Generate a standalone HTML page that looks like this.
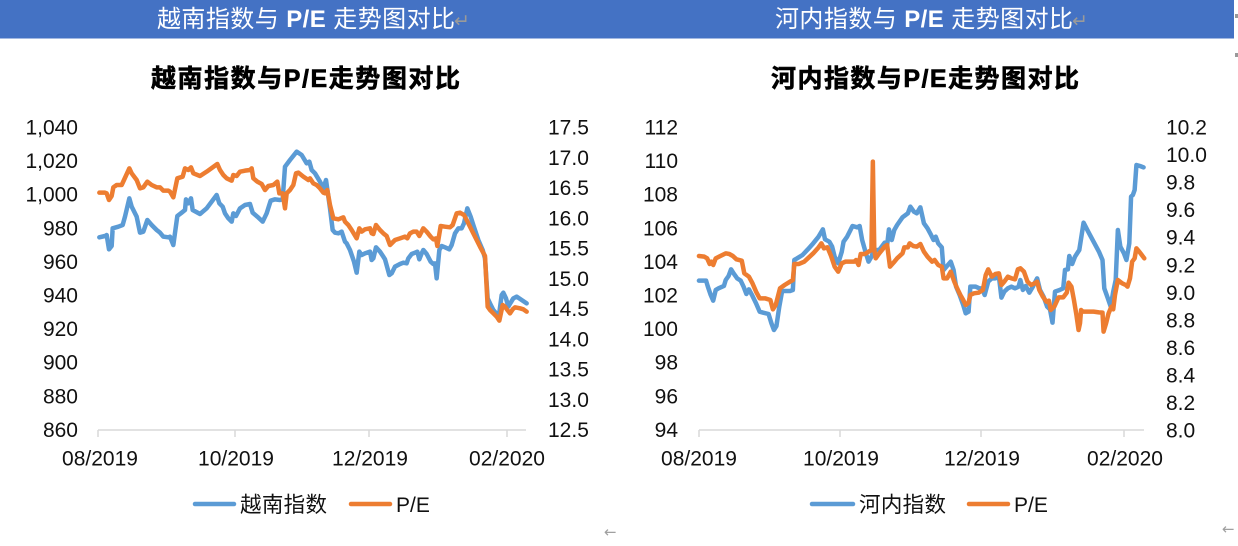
<!DOCTYPE html>
<html>
<head>
<meta charset="utf-8">
<style>
  html, body { margin:0; padding:0; background:#ffffff; }
  body { width:1238px; height:546px; overflow:hidden; }
  svg { display:block; }
  .ax { font-family:"Liberation Sans","Noto Sans CJK SC",sans-serif; font-size:21px; fill:#111; }
  .cjk { font-family:"Liberation Sans","Noto Sans CJK SC",sans-serif; }
  .ln { fill:none; stroke-width:4.5; stroke-linejoin:round; stroke-linecap:round; }
</style>
</head>
<body>
<svg width="1238" height="546" viewBox="0 0 1238 546" xmlns="http://www.w3.org/2000/svg">
  <rect x="0" y="0" width="1238" height="546" fill="#ffffff"/>
  <!-- header band -->
  <rect x="0" y="0" width="1234" height="38.5" fill="#4472C4"/>
  <text class="cjk" x="157" y="27" font-size="24" fill="#ffffff" textLength="298" lengthAdjust="spacing">越南指数与<tspan font-weight="bold" font-family="Liberation Sans, sans-serif"> P/E </tspan>走势图对比</text>
  <text x="454" y="27" font-family="DejaVu Sans, sans-serif" font-size="19" fill="#9a9a9a">↵</text>
  <text class="cjk" x="775" y="27" font-size="24" fill="#ffffff" textLength="298" lengthAdjust="spacing">河内指数与<tspan font-weight="bold" font-family="Liberation Sans, sans-serif"> P/E </tspan>走势图对比</text>
  <text x="1072" y="27" font-family="DejaVu Sans, sans-serif" font-size="19" fill="#9a9a9a">↵</text>
  <rect x="1235" y="14" width="3" height="4" fill="#999"/>
  <rect x="1235" y="53" width="3" height="4" fill="#999"/>

  <!-- titles -->
  <text class="cjk" x="151" y="87" font-size="25" font-weight="bold" fill="#000" stroke="#000" stroke-width="0.6" textLength="309" lengthAdjust="spacing">越南指数与P/E走势图对比</text>
  <text class="cjk" x="771" y="87" font-size="25" font-weight="bold" fill="#000" stroke="#000" stroke-width="0.6" textLength="308" lengthAdjust="spacing">河内指数与P/E走势图对比</text>

  <!-- ========== LEFT CHART ========== -->
  <g class="ax" text-anchor="end">
    <text x="78" y="134.5">1,040</text>
    <text x="78" y="168.1">1,020</text>
    <text x="78" y="201.7">1,000</text>
    <text x="78" y="235.3">980</text>
    <text x="78" y="268.9">960</text>
    <text x="78" y="302.5">940</text>
    <text x="78" y="336.1">920</text>
    <text x="78" y="369.7">900</text>
    <text x="78" y="403.3">880</text>
    <text x="78" y="436.9">860</text>
  </g>
  <g class="ax" text-anchor="start">
    <text x="548" y="134.5">17.5</text>
    <text x="548" y="164.75">17.0</text>
    <text x="548" y="195">16.5</text>
    <text x="548" y="225.25">16.0</text>
    <text x="548" y="255.5">15.5</text>
    <text x="548" y="285.75">15.0</text>
    <text x="548" y="316">14.5</text>
    <text x="548" y="346.25">14.0</text>
    <text x="548" y="376.5">13.5</text>
    <text x="548" y="406.75">13.0</text>
    <text x="548" y="437">12.5</text>
  </g>
  <g stroke="#d9d9d9" stroke-width="1.5">
    <line x1="98" y1="430" x2="526" y2="430"/>
    <line x1="98" y1="430" x2="98" y2="437"/>
    <line x1="235" y1="430" x2="235" y2="437"/>
    <line x1="369" y1="430" x2="369" y2="437"/>
    <line x1="507" y1="430" x2="507" y2="437"/>
  </g>
  <g class="ax" text-anchor="middle">
    <text x="100" y="465.5">08/2019</text>
    <text x="236" y="465.5">10/2019</text>
    <text x="370" y="465.5">12/2019</text>
    <text x="507" y="465.5">02/2020</text>
  </g>
  <g transform="translate(60,110) scale(0.33333)">
    <polyline class="ln" stroke="#5B9BD5" vector-effect="non-scaling-stroke" points="118,382 135,378 140,375 147,418 155,408 158,355 175,350 188,345 195,320 208,265 215,290 230,320 240,368 250,365 262,330 275,345 290,360 300,368 310,380 325,382 330,380 340,405 352,318 365,308 375,300 378,268 385,280 393,265 398,300 420,312 440,295 470,255 478,280 488,290 495,310 505,325 515,335 520,310 528,318 540,295 555,285 570,282 578,308 592,320 608,335 620,310 632,272 645,268 660,270 668,268 675,170 690,150 710,125 725,135 740,160 748,155 755,180 765,190 780,215 790,235 798,210 810,295 818,360 825,368 835,370 845,365 855,395 860,400 870,420 882,455 890,488 898,425 905,435 915,430 930,425 935,450 940,445 948,412 960,425 970,440 975,448 988,495 995,490 1005,470 1020,462 1030,458 1040,460 1045,445 1055,432 1065,428 1072,425 1078,448 1085,430 1090,420 1100,432 1112,455 1120,462 1125,460 1130,505 1138,420 1145,408 1155,412 1168,418 1175,405 1185,370 1195,355 1205,355 1212,340 1222,295 1232,320 1240,345 1255,390 1268,420 1275,445 1283,565 1290,580 1300,600 1310,612 1318,608 1325,555 1330,548 1338,565 1345,590 1352,578 1360,565 1370,560 1385,570 1400,580"/>
    <polyline class="ln" stroke="#ED7D31" vector-effect="non-scaling-stroke" points="118,248 135,248 140,250 147,270 155,258 160,232 170,225 185,225 192,210 208,175 215,190 230,210 240,235 250,232 262,215 275,225 290,232 300,232 310,242 325,242 330,245 340,262 352,205 368,200 375,175 385,180 393,172 400,190 420,198 440,185 472,162 480,180 490,195 500,205 515,212 520,195 530,198 540,185 555,182 570,180 575,175 580,205 592,215 605,222 615,240 625,228 640,225 652,215 658,250 668,250 675,295 680,250 690,240 700,225 708,190 715,188 730,200 745,210 750,205 760,220 770,225 780,235 790,248 795,250 802,240 810,285 820,325 835,328 850,322 855,335 865,345 875,360 890,385 898,355 905,365 915,358 930,355 935,370 940,372 948,345 960,360 970,370 980,378 990,405 1005,390 1020,385 1035,380 1042,385 1050,370 1060,365 1070,365 1078,378 1090,355 1100,365 1112,380 1120,388 1128,385 1132,408 1142,348 1155,350 1170,352 1178,345 1190,310 1200,308 1212,315 1220,330 1240,370 1260,410 1275,438 1283,590 1290,600 1300,610 1310,620 1318,632 1328,585 1335,590 1342,600 1350,610 1358,598 1365,592 1380,595 1390,598 1400,605"/>
  </g>
  <!-- left legend -->
  <line x1="195" y1="504" x2="234" y2="504" stroke="#5B9BD5" stroke-width="4.5" stroke-linecap="round"/>
  <text class="cjk" x="240" y="512" font-size="21.5" fill="#111" textLength="87" lengthAdjust="spacing">越南指数</text>
  <line x1="351" y1="504" x2="390" y2="504" stroke="#ED7D31" stroke-width="4.5" stroke-linecap="round"/>
  <text class="ax" x="396" y="512">P/E</text>
  <text x="604" y="537" font-family="DejaVu Sans, sans-serif" font-size="15" fill="#a0a0a0">←</text>

  <!-- ========== RIGHT CHART ========== -->
  <g class="ax" text-anchor="end">
    <text x="678" y="134.5">112</text>
    <text x="678" y="168.1">110</text>
    <text x="678" y="201.7">108</text>
    <text x="678" y="235.3">106</text>
    <text x="678" y="268.9">104</text>
    <text x="678" y="302.5">102</text>
    <text x="678" y="336.1">100</text>
    <text x="678" y="369.7">98</text>
    <text x="678" y="403.3">96</text>
    <text x="678" y="436.9">94</text>
  </g>
  <g class="ax" text-anchor="start">
    <text x="1166" y="134.5">10.2</text>
    <text x="1166" y="162.05">10.0</text>
    <text x="1166" y="189.6">9.8</text>
    <text x="1166" y="217.15">9.6</text>
    <text x="1166" y="244.7">9.4</text>
    <text x="1166" y="272.25">9.2</text>
    <text x="1166" y="299.8">9.0</text>
    <text x="1166" y="327.35">8.8</text>
    <text x="1166" y="354.9">8.6</text>
    <text x="1166" y="382.45">8.4</text>
    <text x="1166" y="410">8.2</text>
    <text x="1166" y="437.5">8.0</text>
  </g>
  <g stroke="#d9d9d9" stroke-width="1.5">
    <line x1="699" y1="430" x2="1144" y2="430"/>
    <line x1="699" y1="430" x2="699" y2="437"/>
    <line x1="840" y1="430" x2="840" y2="437"/>
    <line x1="981" y1="430" x2="981" y2="437"/>
    <line x1="1124" y1="430" x2="1124" y2="437"/>
  </g>
  <g class="ax" text-anchor="middle">
    <text x="699" y="465.5">08/2019</text>
    <text x="841" y="465.5">10/2019</text>
    <text x="982" y="465.5">12/2019</text>
    <text x="1125" y="465.5">02/2020</text>
  </g>
  <g transform="translate(640,110) scale(0.357143,0.33333)">
    <polyline class="ln" stroke="#5B9BD5" vector-effect="non-scaling-stroke" points="165,512 185,512 190,530 198,555 205,572 212,540 220,535 235,528 240,510 248,498 255,478 262,490 272,505 282,512 290,530 298,552 305,538 315,558 325,580 335,605 345,608 360,612 368,640 375,660 382,648 390,590 398,543 408,543 420,543 428,540 432,450 440,445 455,435 470,418 485,400 500,380 512,358 518,388 530,395 538,410 545,440 555,460 565,425 570,395 580,380 595,348 608,352 615,348 622,390 632,428 640,455 648,440 655,420 670,420 685,398 692,405 697,358 705,390 712,360 720,345 735,322 750,310 757,290 767,305 775,310 785,292 795,340 805,355 815,375 822,390 828,380 835,400 845,412 850,480 858,470 870,455 878,480 885,530 895,555 905,585 912,610 920,605 925,530 932,530 940,530 950,535 958,535 965,555 975,515 985,505 995,505 1005,500 1012,563 1020,545 1030,535 1040,530 1050,535 1060,530 1065,510 1072,540 1080,528 1090,548 1100,530 1112,505 1120,540 1130,560 1140,590 1148,598 1155,638 1162,545 1175,540 1185,535 1190,480 1198,478 1202,438 1210,462 1218,440 1230,420 1242,338 1255,365 1270,395 1285,425 1295,450 1300,535 1310,565 1318,590 1325,545 1332,510 1338,360 1345,410 1355,430 1362,450 1370,400 1375,260 1380,255 1385,240 1390,165 1400,168 1410,172"/>
    <polyline class="ln" stroke="#ED7D31" vector-effect="non-scaling-stroke" points="165,438 180,440 188,445 195,462 200,455 205,465 212,445 225,438 240,430 250,432 260,438 270,448 285,452 292,490 305,500 315,520 325,545 335,565 350,565 365,570 372,598 380,585 392,535 405,525 420,515 428,510 432,462 445,462 460,455 470,445 485,430 500,412 508,400 515,415 525,412 535,438 545,470 555,485 565,460 575,455 590,455 600,455 605,450 612,465 618,432 630,432 640,425 648,420 652,155 656,420 660,445 670,430 685,410 692,405 700,470 710,458 720,445 735,430 740,412 750,412 755,400 765,408 775,410 785,402 795,425 805,440 818,455 825,450 835,465 845,470 850,505 860,505 870,485 880,515 888,535 897,555 905,570 912,585 920,578 925,555 935,550 948,548 960,540 968,495 975,478 985,500 995,492 1005,490 1012,525 1020,515 1030,500 1040,505 1050,508 1058,478 1065,475 1075,485 1085,515 1095,525 1105,520 1112,515 1118,540 1128,560 1138,575 1145,572 1150,600 1160,590 1172,562 1185,562 1195,548 1200,518 1208,530 1215,570 1222,615 1228,660 1232,640 1235,600 1240,605 1255,605 1270,605 1285,607 1295,608 1298,665 1305,640 1312,610 1320,590 1325,598 1330,555 1338,510 1350,520 1360,525 1365,530 1372,505 1378,455 1385,445 1390,415 1398,425 1405,435 1412,445"/>
  </g>
  <!-- right legend -->
  <line x1="812" y1="504" x2="853" y2="504" stroke="#5B9BD5" stroke-width="4.5" stroke-linecap="round"/>
  <text class="cjk" x="859" y="512" font-size="21.5" fill="#111" textLength="87" lengthAdjust="spacing">河内指数</text>
  <line x1="969" y1="504" x2="1008" y2="504" stroke="#ED7D31" stroke-width="4.5" stroke-linecap="round"/>
  <text class="ax" x="1014" y="512">P/E</text>
  <text x="1222" y="534" font-family="DejaVu Sans, sans-serif" font-size="15" fill="#a0a0a0">←</text>
</svg>
</body>
</html>
